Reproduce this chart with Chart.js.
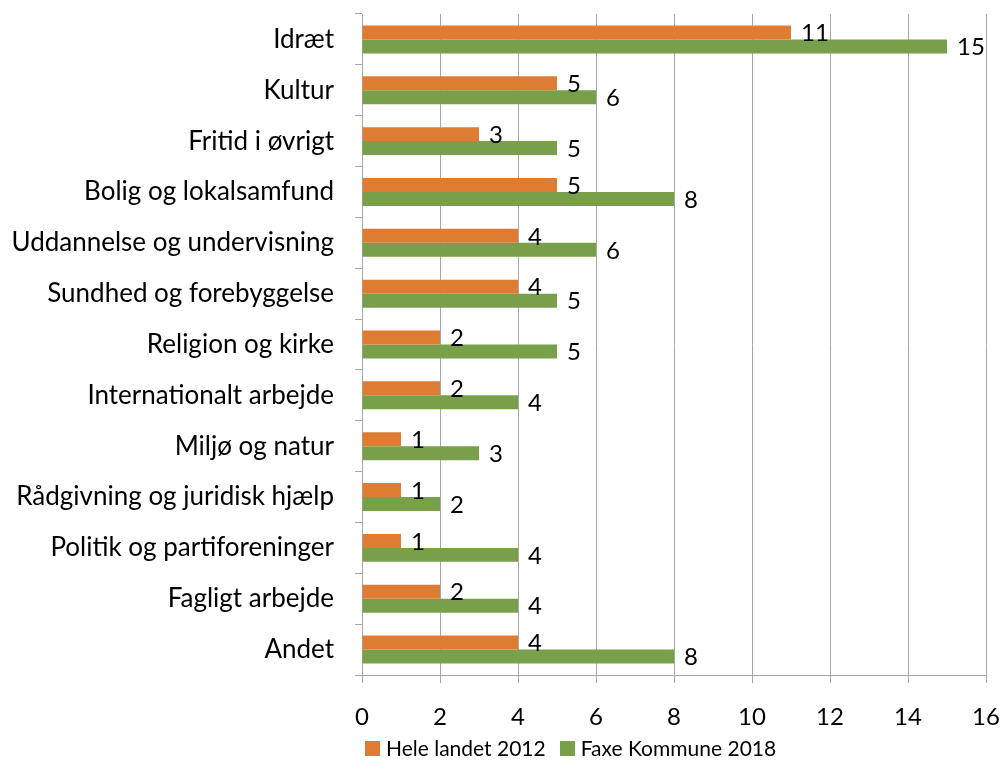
<!DOCTYPE html>
<html>
<head>
<meta charset="utf-8">
<script src="https://cdn.jsdelivr.net/npm/chart.js@4.4.1/dist/chart.umd.min.js"></script>
<style>
  html, body { margin: 0; padding: 0; background: #ffffff; }
  #wrap { position: relative; width: 1003px; height: 769px; }
  #legend { position: absolute; top: 735px; left: 365px; height: 26px; font-family: Lato, sans-serif; font-size: 21px; line-height: 26px; color: #000; white-space: nowrap; display: flex; align-items: center; }
  .item { display: inline-flex; align-items: center; margin-right: 14px; }
  .box { display: inline-block; width: 15px; height: 15px; margin-right: 6px; }
</style>
</head>
<body>
<div id="wrap">
  <canvas id="c" width="1003" height="769"></canvas>
  <div id="legend"></div>
</div>
<script>
const categories = ["Idræt", "Kultur", "Fritid i øvrigt", "Bolig og lokalsamfund", "Uddannelse og undervisning", "Sundhed og forebyggelse", "Religion og kirke", "Internationalt arbejde", "Miljø og natur", "Rådgivning og juridisk hjælp", "Politik og partiforeninger", "Fagligt arbejde", "Andet"];
const seriesNames = ["Hele landet 2012", "Faxe Kommune 2018"];
const heleLandet2012 = [11, 5, 3, 5, 4, 4, 2, 2, 1, 1, 1, 2, 4];
const faxeKommune2018 = [15, 6, 5, 8, 6, 5, 5, 4, 3, 2, 4, 4, 8];
const xTicks = [0, 2, 4, 6, 8, 10, 12, 14, 16];
const colors = ["#DF7C33", "#78A04A"];

const FONT = "Lato, sans-serif";
const gridColor = "#A6A6A6";

const valueLabels = {
  id: 'valueLabels',
  afterDatasetsDraw(chart) {
    const ctx = chart.ctx;
    ctx.save();
    ctx.font = "24px " + FONT;
    ctx.fillStyle = "#000";
    ctx.textAlign = "left";
    ctx.textBaseline = "middle";
    chart.data.datasets.forEach((ds, di) => {
      const meta = chart.getDatasetMeta(di);
      meta.data.forEach((el, i) => {
        ctx.fillText(String(ds.data[i]), el.x + 10, el.y + 1);
      });
    });
    ctx.restore();
  }
};

const chart = new Chart(document.getElementById('c'), {
  type: 'bar',
  data: {
    labels: categories,
    datasets: [
      { label: seriesNames[0], data: heleLandet2012, backgroundColor: colors[0], categoryPercentage: 0.55, barPercentage: 1.0 },
      { label: seriesNames[1], data: faxeKommune2018, backgroundColor: colors[1], categoryPercentage: 0.55, barPercentage: 1.0 }
    ]
  },
  options: {
    indexAxis: 'y',
    responsive: false,
    animation: false,
    devicePixelRatio: 1,
    layout: { padding: { top: 14, right: 17, bottom: 0, left: 0 } },
    plugins: { legend: { display: false }, tooltip: { enabled: false } },
    scales: {
      x: {
        min: 0, max: 16,
        afterBuildTicks(scale) { scale.ticks = xTicks.map(v => ({ value: v })); },
        afterFit(scale) { scale.height = 94; scale.paddingLeft = 0; scale.paddingRight = 0; },
        grid: { color: gridColor, lineWidth: 1, tickLength: 8, drawTicks: true },
        border: { color: gridColor, width: 1 },
        ticks: { font: { family: FONT, size: 24 }, color: "#000", padding: 20, maxRotation: 0 }
      },
      y: {
        afterFit(scale) { scale.width = 362; scale.paddingTop = 0; scale.paddingBottom = 0; },
        grid: { drawOnChartArea: false, color: gridColor, tickLength: 7, offset: true },
        border: { color: gridColor, width: 1 },
        ticks: { font: { family: FONT, size: 26 }, color: "#000", padding: 21, autoSkip: false }
      }
    }
  },
  plugins: [valueLabels]
});

const lg = document.getElementById('legend');
seriesNames.forEach((n, i) => {
  const it = document.createElement('span');
  it.className = 'item';
  const b = document.createElement('span');
  b.className = 'box';
  b.style.background = colors[i];
  it.appendChild(b);
  it.appendChild(document.createTextNode(n));
  lg.appendChild(it);
});
</script>
</body>
</html>
